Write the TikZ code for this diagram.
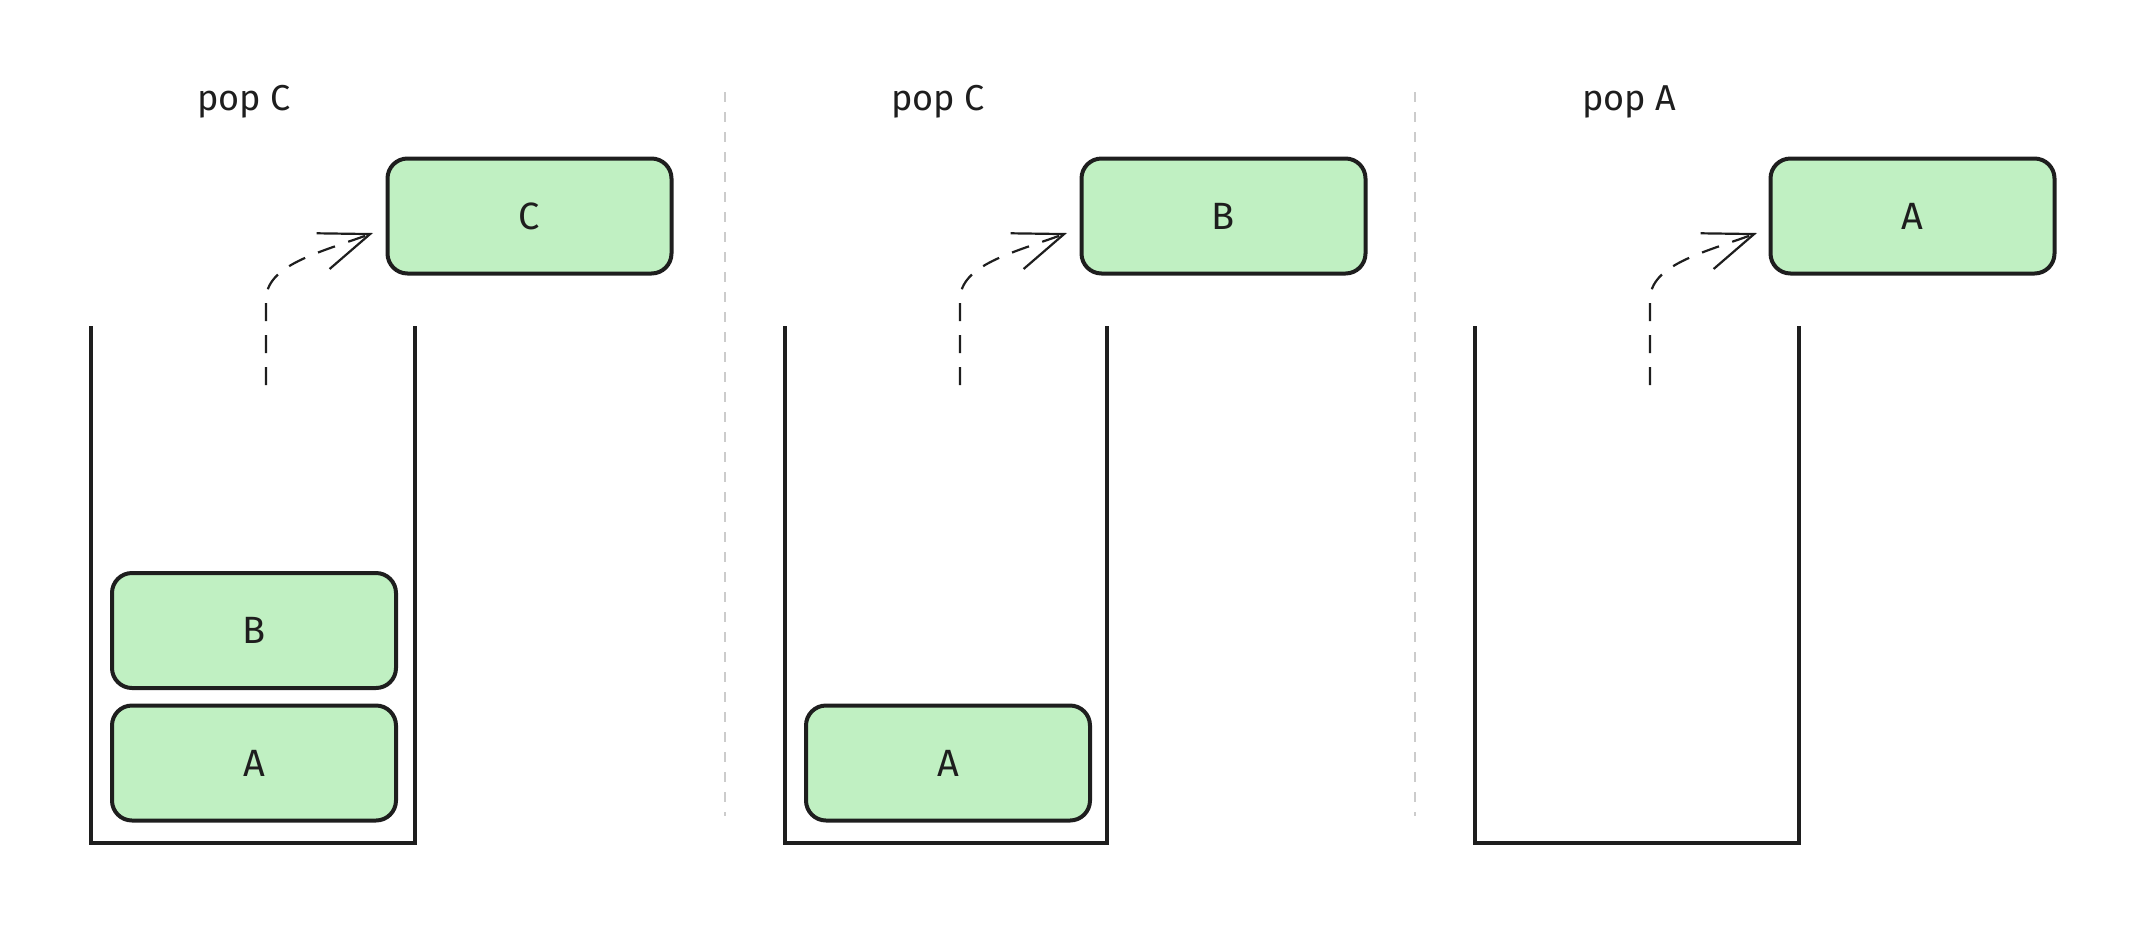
\documentclass[tikz,border=0pt]{standalone}
\usepackage{fontspec}
\setmainfont{Fira Sans}
\usetikzlibrary{arrows.meta}
\definecolor{ink}{HTML}{1E1E1E}
\definecolor{boxfill}{HTML}{C0F0C2}
\definecolor{divcol}{HTML}{CCCCCC}
\tikzset{
  item/.style={draw=ink, fill=boxfill, line width=2pt, rounded corners=10pt,
    minimum width=142pt, minimum height=57.5pt, inner sep=0pt,
    font=\fontsize{19}{22}\selectfont, text=ink},
  title/.style={font=\fontsize{18}{21}\selectfont, text=ink, inner sep=0pt},
  stackwall/.style={draw=ink, line width=2pt, line join=miter},
  divider/.style={draw=divcol, line width=0.9pt, dash pattern=on 5pt off 5pt},
  popline/.style={draw=ink, line width=1.1pt, dash pattern=on 9pt off 7pt,
    -{Straight Barb[length=25pt, width=19pt, line width=1.1pt]}},
}
\begin{document}
\begin{tikzpicture}[x=0.5pt, y=-0.5pt]
\useasboundingbox (0,0) rectangle (2132,944);

% dividers
\coordinate (d1t) at (725,92); \coordinate (d1b) at (725,816);
\coordinate (d2t) at (1415,92); \coordinate (d2b) at (1415,816);
\draw[divider] (d1t) -- (d1b);
\draw[divider] (d2t) -- (d2b);

% ---- panel 1
\node[title] (t1) at (244,102) {pop C};
\node[item] (c1) at (529.5,216) {C};
\node[item] (b1) at (254,630.5) {B};
\node[item] (a1) at (254,763) {A};
\coordinate (w1a) at (91,326); \coordinate (w1b) at (91,843);
\coordinate (w1c) at (415,843); \coordinate (w1d) at (415,326);
\draw[stackwall] (w1a) -- (w1b) -- (w1c) -- (w1d);
\coordinate (s1) at (266,385);
\coordinate (e1) at (373,233);
\draw[popline] (s1) -- (266,300) .. controls (266,265) and (318,253) .. (e1);

% ---- panel 2
\node[title] (t2) at (938,102) {pop C};
\node[item] (c2) at (1223.5,216) {B};
\node[item] (a2) at (948,763) {A};
\coordinate (w2a) at (785,326); \coordinate (w2b) at (785,843);
\coordinate (w2c) at (1107,843); \coordinate (w2d) at (1107,326);
\draw[stackwall] (w2a) -- (w2b) -- (w2c) -- (w2d);
\coordinate (s2) at (960,385);
\coordinate (e2) at (1067,233);
\draw[popline] (s2) -- (960,300) .. controls (960,265) and (1012,253) .. (e2);

% ---- panel 3
\node[title] (t3) at (1629,102) {pop A};
\node[item] (c3) at (1912.5,216) {A};
\coordinate (w3a) at (1475,326); \coordinate (w3b) at (1475,843);
\coordinate (w3c) at (1799,843); \coordinate (w3d) at (1799,326);
\draw[stackwall] (w3a) -- (w3b) -- (w3c) -- (w3d);
\coordinate (s3) at (1650,385);
\coordinate (e3) at (1757,233);
\draw[popline] (s3) -- (1650,300) .. controls (1650,265) and (1702,253) .. (e3);
\end{tikzpicture}
\end{document}
